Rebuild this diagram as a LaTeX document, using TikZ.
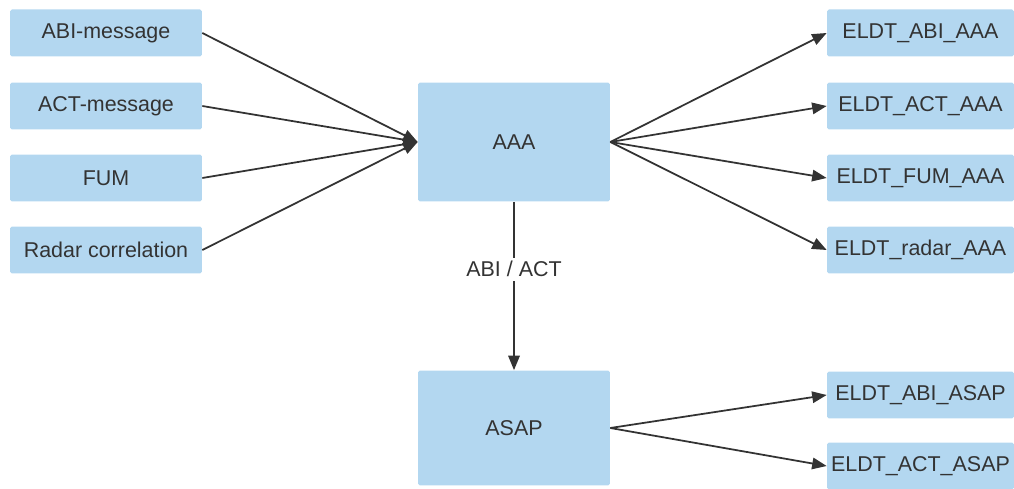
\documentclass[tikz,border=0pt]{standalone}
\usepackage{fontspec}
\setmainfont{Liberation Sans}
\usetikzlibrary{arrows.meta}
\definecolor{boxblue}{RGB}{179,215,240}
\definecolor{linegray}{RGB}{51,51,51}
\tikzset{box/.style = {fill=boxblue, rounded corners=1pt, inner sep=0pt,
        minimum width=3.84cm, minimum height=0.94cm, text=linegray,
        font=\fontsize{12.2}{14}\selectfont},
    outbox/.style = {box, minimum width=3.74cm},
    bigbox/.style = {box, minimum height=2.3cm},
    flow/.style = {draw=linegray, line width=1pt,
        -{Triangle[length=0.29cm, width=0.23cm]}}}

\begin{document}
\begin{tikzpicture}[x=0.02cm, y=-0.02cm]
        \useasboundingbox (0,0) rectangle (1014,489);
        % inputs
        \node[box] (abimsg) at (106,33) {ABI-message};
        \node[box] (actmsg) at (106,106) {ACT-message};
        \node[box] (fum) at (106,178) {FUM};
        \node[box] (radar) at (106,250) {Radar correlation};
        % processing
        \node[box, minimum height=2.38cm] (aaa) at (514,142) {AAA};
        \node[bigbox] (asap) at (514,428) {ASAP};
        % outputs
        \node[outbox] (eabiaaa) at (920.5,33) {ELDT\_ABI\_AAA};
        \node[outbox] (eactaaa) at (920.5,106) {ELDT\_ACT\_AAA};
        \node[outbox] (efumaaa) at (920.5,178) {ELDT\_FUM\_AAA};
        \node[outbox] (eradaaa) at (920.5,250) {ELDT\_radar\_AAA};
        \node[outbox] (eabiasap) at (920.5,395) {ELDT\_ABI\_ASAP};
        \node[outbox] (eactasap) at (920.5,466) {ELDT\_ACT\_ASAP};
        \foreach \src in {abimsg, actmsg, fum, radar}
            \draw[flow] (\src.east) -- (aaa.west);
        \foreach \dst in {eabiaaa, eactaaa, efumaaa, eradaaa}
            \draw[flow] (aaa.east) -- (\dst.west);
        \foreach \dst in {eabiasap, eactasap}
            \draw[flow] (asap.east) -- (\dst.west);
        \draw[flow] (aaa.south) -- node[pos=0.4, fill=white, text=linegray,
            font=\fontsize{12.2}{14}\selectfont, inner sep=2pt] {ABI / ACT} (asap.north);
    \end{tikzpicture}
\end{document}
